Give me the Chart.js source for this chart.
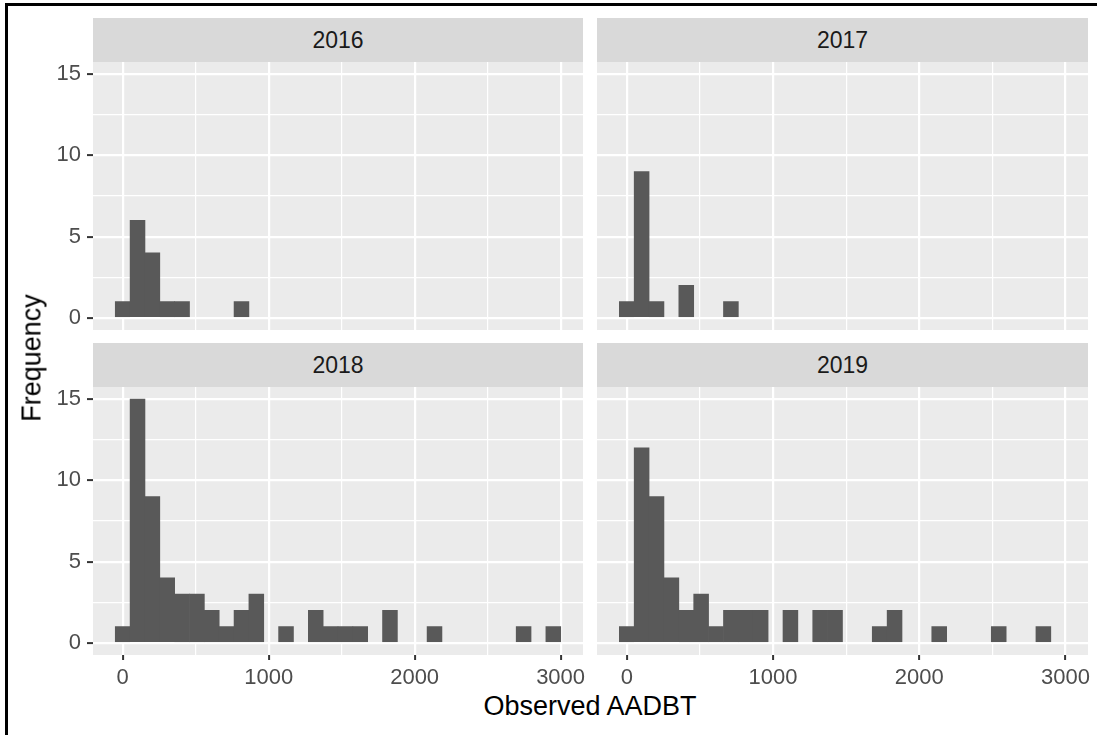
<!DOCTYPE html>
<html>
<head>
<meta charset="utf-8">
<title>Observed AADBT histograms</title>
<script src="https://cdn.jsdelivr.net/npm/chart.js@4.4.1/dist/chart.umd.min.js"></script>
<style>
    body { margin: 0; background: #fff; }
    #figure { position: relative; width: 1097px; height: 735px; background: #fff; overflow: hidden;
              font-family: 'Liberation Sans', Arial, sans-serif; }
    .frame-left { position: absolute; left: 5px; top: 3px; width: 3px; height: 732px; background: #000; }
    .frame-top { position: absolute; left: 5px; top: 3px; width: 1092px; height: 3px; background: #000; }
    .strip { position: absolute; height: 44px; background: #D9D9D9; color: #1A1A1A;
             font-size: 23px; line-height: 44px; text-align: center; }
    .panel { position: absolute; }
    #ylab { position: absolute; left: 32px; top: 358px; font-size: 27px; line-height: 27px; color: #000;
            white-space: nowrap; transform: translate(-50%, -50%) rotate(-90deg); }
    #xlab { position: absolute; left: 590px; top: 693px; font-size: 27px; line-height: 27px; color: #000;
            white-space: nowrap; transform: translateX(-50%); }
</style>
</head>
<body>
<div id="figure">
    <div class="frame-left"></div>
    <div class="frame-top"></div>

    <div class="strip" style="left:93px;top:18px;width:490px;">2016</div>
    <div class="strip" style="left:597px;top:18px;width:491px;">2017</div>
    <div class="strip" style="left:93px;top:343px;width:490px;">2018</div>
    <div class="strip" style="left:597px;top:343px;width:491px;">2019</div>

    <!-- canvases are 9px wider than the panel so the "3000" label is not clipped -->
    <div class="panel" style="left:0px;top:62px;width:592px;height:268px;"><canvas id="c2016"></canvas></div>
    <div class="panel" style="left:597px;top:62px;width:500px;height:268px;"><canvas id="c2017"></canvas></div>
    <div class="panel" style="left:0px;top:387px;width:592px;height:303px;"><canvas id="c2018"></canvas></div>
    <div class="panel" style="left:597px;top:387px;width:500px;height:303px;"><canvas id="c2019"></canvas></div>

    <div id="ylab">Frequency</div>
    <div id="xlab">Observed AADBT</div>
</div>

<script>
// bin centres (30 bins, width ~101.7)
const binCenters = [0, 101.7, 203.4, 305.2, 406.9, 508.6, 610.3, 712.1, 813.8, 915.5,
    1017.2, 1119.0, 1220.7, 1322.4, 1424.1, 1525.9, 1627.6, 1729.3, 1831.0, 1932.8,
    2034.5, 2136.2, 2237.9, 2339.7, 2441.4, 2543.1, 2644.8, 2746.6, 2848.3, 2950.0];

// counts per year
const counts2016 = [1, 6, 4, 1, 1, 0, 0, 0, 1, 0, 0, 0, 0, 0, 0, 0, 0, 0, 0, 0, 0, 0, 0, 0, 0, 0, 0, 0, 0, 0];
const counts2017 = [1, 9, 1, 0, 2, 0, 0, 1, 0, 0, 0, 0, 0, 0, 0, 0, 0, 0, 0, 0, 0, 0, 0, 0, 0, 0, 0, 0, 0, 0];
const counts2018 = [1, 15, 9, 4, 3, 3, 2, 1, 2, 3, 0, 1, 0, 2, 1, 1, 1, 0, 2, 0, 0, 1, 0, 0, 0, 0, 0, 1, 0, 1];
const counts2019 = [1, 12, 9, 4, 2, 3, 1, 2, 2, 2, 0, 2, 0, 2, 2, 0, 0, 1, 2, 0, 0, 1, 0, 0, 0, 1, 0, 0, 1, 0];

// axis ticks (major + minor grid)
const xTicks = [0, 500, 1000, 1500, 2000, 2500, 3000];
const yTicks = [0, 2.5, 5, 7.5, 10, 12.5, 15];
const xRange = [-203.4, 3153.4];
const yRange = [-0.75, 15.75];

Chart.defaults.font.family = "'Liberation Sans', Arial, sans-serif";

// grey panel background
const panelBg = {
    id: 'panelBg',
    beforeDraw(chart) {
        const { ctx, chartArea: a } = chart;
        ctx.save();
        ctx.fillStyle = '#EBEBEB';
        ctx.fillRect(a.left, a.top, a.right - a.left, a.bottom - a.top);
        ctx.restore();
    }
};

function makePanel(canvasId, counts, showX, showY) {
    return new Chart(document.getElementById(canvasId).getContext('2d'), {
        type: 'bar',
        data: {
            datasets: [{
                data: binCenters.map((x, i) => ({ x: x, y: counts[i] })),
                // empty bins stay invisible
                backgroundColor: c => (c.raw && c.raw.y > 0 ? '#595959' : 'rgba(0,0,0,0)'),
                borderWidth: 0,
                barPercentage: 1,
                categoryPercentage: 1
            }]
        },
        options: {
            responsive: true,
            maintainAspectRatio: false,
            animation: false,
            layout: { padding: { left: 0, top: 0, bottom: 0, right: 9 }, autoPadding: false },
            plugins: { legend: { display: false }, tooltip: { enabled: false } },
            scales: {
                x: {
                    type: 'linear',
                    offset: false,
                    min: xRange[0],
                    max: xRange[1],
                    afterBuildTicks: s => { s.ticks = xTicks.map(v => ({ value: v })); },
                    afterFit: s => { s.height = showX ? 35 : 0; s.paddingLeft = 0; s.paddingRight = 0; },
                    ticks: {
                        display: showX,
                        autoSkip: false,
                        maxRotation: 0,
                        padding: 5,
                        color: '#4D4D4D',
                        font: { size: 22 },
                        callback: v => (v % 1000 === 0 ? String(v) : '')
                    },
                    grid: {
                        offset: false,
                        color: '#FFFFFF',
                        lineWidth: c => (c.tick && c.tick.value % 1000 === 0 ? 2.2 : 1.2),
                        drawTicks: showX,
                        tickLength: 5,
                        tickWidth: 2,
                        tickColor: c => (c.tick && c.tick.value % 1000 === 0 ? '#333333' : 'rgba(0,0,0,0)')
                    },
                    border: { display: false }
                },
                y: {
                    type: 'linear',
                    min: yRange[0],
                    max: yRange[1],
                    afterBuildTicks: s => { s.ticks = yTicks.map(v => ({ value: v })); },
                    afterFit: s => { s.width = showY ? 93 : 0; s.paddingTop = 0; s.paddingBottom = 0; },
                    ticks: {
                        display: showY,
                        padding: 6,
                        color: '#4D4D4D',
                        font: { size: 22 },
                        callback: v => (v % 5 === 0 ? String(v) : '')
                    },
                    grid: {
                        color: '#FFFFFF',
                        lineWidth: c => (c.tick && c.tick.value % 5 === 0 ? 2.2 : 1.2),
                        drawTicks: showY,
                        tickLength: 6,
                        tickWidth: 2,
                        tickColor: c => (c.tick && c.tick.value % 5 === 0 ? '#333333' : 'rgba(0,0,0,0)')
                    },
                    border: { display: false }
                }
            }
        },
        plugins: [panelBg]
    });
}

makePanel('c2016', counts2016, false, true);
makePanel('c2017', counts2017, false, false);
makePanel('c2018', counts2018, true, true);
makePanel('c2019', counts2019, true, false);
</script>
</body>
</html>
